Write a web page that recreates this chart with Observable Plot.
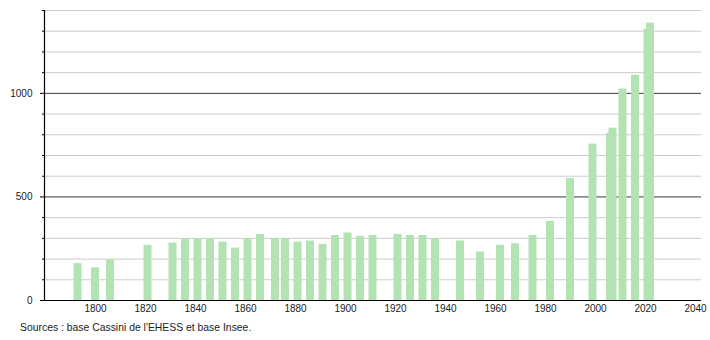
<!DOCTYPE html>
<html>
<head>
<meta charset="utf-8">
<script src="https://cdn.jsdelivr.net/npm/d3@7"></script>
<script src="https://cdn.jsdelivr.net/npm/@observablehq/plot@0.6"></script>
<style>
  html, body { margin: 0; padding: 0; background: #fff; }
  #chart { width: 710px; height: 340px; position: relative; }
  .caption { position: absolute; left: 20px; top: 321px; font: 10.4px "Liberation Sans", Arial, sans-serif; color: #222; line-height: 14px; }
</style>
</head>
<body>
<div id="chart"></div>
<script>
const years = [1793, 1800, 1806, 1821, 1831, 1836, 1841, 1846, 1851, 1856, 1861, 1866, 1872, 1876, 1881, 1886, 1891, 1896, 1901, 1906, 1911, 1921, 1926, 1931, 1936, 1946, 1954, 1962, 1968, 1975, 1982, 1990, 1999, 2006, 2007, 2011, 2016, 2021, 2022];
const population = [178, 158, 197, 266, 277, 298, 298, 298, 282, 253, 298, 319, 298, 298, 282, 287, 271, 314, 326, 310, 314, 319, 314, 314, 298, 287, 234, 266, 274, 314, 382, 589, 755, 806, 832, 1021, 1088, 1310, 1339];
const xTicks = [1800, 1820, 1840, 1860, 1880, 1900, 1920, 1940, 1960, 1980, 2000, 2020, 2040];
const yMajor = [0, 500, 1000];
const yMinor = [100, 200, 300, 400, 600, 700, 800, 900, 1100, 1200, 1300, 1400];
const caption = "Sources : base Cassini de l'EHESS et base Insee.";

const data = years.map((year, i) => ({year, pop: population[i]}));
const xMin = 1779.6, xMax = 2042.4;

const chart = Plot.plot({
  width: 710,
  height: 320,
  marginLeft: 44,
  marginRight: 9,
  marginTop: 10,
  marginBottom: 20,
  style: {fontFamily: "'Liberation Sans', Arial, sans-serif", fontSize: "10px", color: "#222", background: "#fff"},
  x: {domain: [xMin, xMax]},
  y: {domain: [0, 1400]},
  marks: [
    Plot.ruleY(yMinor, {stroke: "#cccccc", strokeWidth: 1}),
    Plot.ruleY([500, 1000], {stroke: "#3a3a3a", strokeWidth: 1}),
    Plot.rectY(data, {x1: d => d.year - 1.6, x2: d => d.year + 1.6, y: "pop", fill: "#b3e3b3"}),
    Plot.ruleY([0], {stroke: "#000", strokeWidth: 1.2}),
    Plot.ruleX([xMin], {y1: 0, y2: 1400, stroke: "#000", strokeWidth: 1.2}),
    Plot.axisY(yMinor, {tickSize: 2, text: null, label: null, stroke: "#000"}),
    Plot.axisY(yMajor, {tickSize: 4, tickPadding: 8, label: null, tickFormat: d => String(d), stroke: "#000"}),
    Plot.axisX(xTicks, {tickSize: 0, tickPadding: 4, label: null, tickFormat: d => String(d)})
  ]
});
const root = document.getElementById("chart");
root.appendChild(chart);
const cap = document.createElement("div");
cap.className = "caption";
cap.textContent = caption;
root.appendChild(cap);
</script>
</body>
</html>
